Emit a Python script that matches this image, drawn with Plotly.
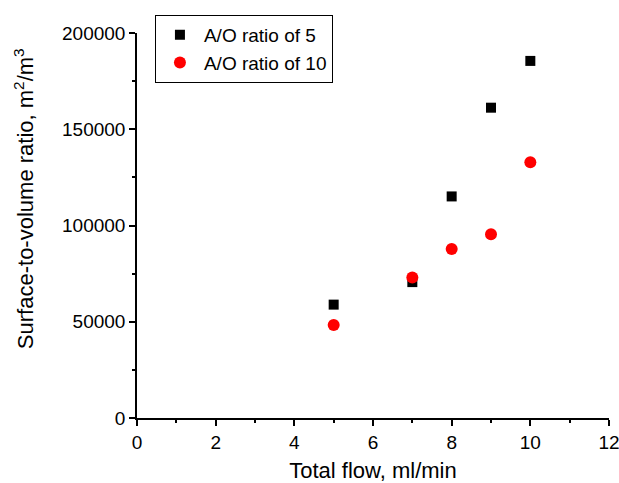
import plotly.graph_objects as go

# Total flow (ml/min) and surface-to-volume ratio (m^2/m^3)
flow = [5, 7, 8, 9, 10]
ratio_ao5 = [58900, 70600, 115100, 161200, 185500]
ratio_ao10 = [48300, 73000, 87800, 95400, 132800]

FONT = "Liberation Sans, Arial, sans-serif"

fig = go.Figure()
fig.add_trace(go.Scatter(
    x=flow, y=ratio_ao5, mode="markers", name="A/O ratio of 5",
    marker=dict(symbol="square", size=10, color="black"),
))
fig.add_trace(go.Scatter(
    x=flow, y=ratio_ao10, mode="markers", name="A/O ratio of 10",
    marker=dict(symbol="circle", size=12, color="#ff0000"),
))

axis_common = dict(
    showline=True, linecolor="black", linewidth=1.5,
    ticks="outside", ticklen=6, tickwidth=1.5, tickcolor="black",
    showgrid=False, zeroline=False, automargin=False,
    ticklabeloverflow="allow",
    tickfont=dict(family=FONT, size=19, color="black"),
)

fig.update_xaxes(
    range=[0, 12], dtick=2, tick0=0,
    minor=dict(dtick=1, ticks="outside", ticklen=3, tickwidth=1.5, tickcolor="black"),
    title=dict(text="Total flow, ml/min", font=dict(family=FONT, size=22, color="black"), standoff=15),
    **axis_common,
)
fig.update_yaxes(
    range=[0, 200000], dtick=50000, tick0=0,
    minor=dict(dtick=25000, ticks="outside", ticklen=3, tickwidth=1.5, tickcolor="black"),
    tickformat="d",
    **axis_common,
)

# y-axis title sits a little above the plot's vertical centre
fig.add_annotation(
    text="Surface-to-volume ratio, m<sup>2</sup>/m<sup>3</sup>",
    textangle=-90, xref="paper", yref="paper",
    x=-0.239, y=0.569, xanchor="center", yanchor="middle",
    showarrow=False, font=dict(family=FONT, size=22, color="black"),
)

fig.update_layout(
    width=619, height=483,
    margin=dict(l=137, r=10, t=33, b=65),
    plot_bgcolor="white", paper_bgcolor="white",
    showlegend=True,
    legend=dict(
        x=0.038, y=1.047, xanchor="left", yanchor="top",
        bordercolor="black", borderwidth=1, bgcolor="white",
        font=dict(family=FONT, size=19, color="black"),
        tracegroupgap=0, itemwidth=38, entrywidth=165,
    ),
)

fig.write_html("out.html")
